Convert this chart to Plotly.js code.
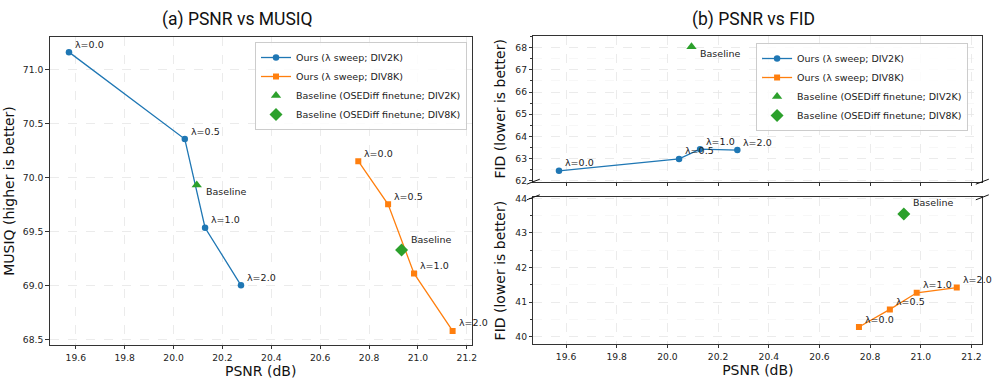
<!DOCTYPE html>
<html>
<head>
<meta charset="utf-8">
<script src="https://cdn.plot.ly/plotly-3.0.1.min.js"></script>
<style>
  html, body { margin: 0; padding: 0; background: #fff; }
  #chart { width: 997px; height: 384px; }
</style>
</head>
<body>
<div id="chart"></div>
<script>
(function() {
'use strict';

  // Ours, lambda sweep
  var lambdas = ['λ=0.0', 'λ=0.5', 'λ=1.0', 'λ=2.0'];
  var psnr2k = [19.572, 20.046, 20.129, 20.276];
  var musiq2k = [71.16, 70.355, 69.533, 69.0];
  var fid2k = [62.44, 62.98, 63.42, 63.38];
  var psnr8k = [20.756, 20.878, 20.984, 21.142];
  var musiq8k = [70.15, 69.75, 69.11, 68.577];
  var fid8k = [40.28, 40.79, 41.27, 41.42];

  // Baselines (OSEDiff finetune): [DIV2K, DIV8K]
  var basePsnr = [20.095, 20.933];
  var baseMusiq = [69.93, 69.327];
  var baseFid = [68.04, 43.55];

  var blue = '#1f77b4', orange = '#ff7f0e', green = '#2ca02c';
  var dv = 'DejaVu Sans, sans-serif';

  var names = ['Ours (λ sweep; DIV2K)', 'Ours (λ sweep; DIV8K)',
               'Baseline (OSEDiff finetune; DIV2K)', 'Baseline (OSEDiff finetune; DIV8K)'];

  function ours(x, y, color, symbol, size, name, xa, ya, leg) {
    return {type: 'scatter', mode: 'lines+markers', x: x, y: y, name: name,
      xaxis: xa, yaxis: ya, legend: leg,
      line: {color: color, width: 1.3},
      marker: {color: color, symbol: symbol, size: size}};
  }
  function base(x, y, symbol, size, name, xa, ya, leg) {
    return {type: 'scatter', mode: 'markers', x: [x], y: [y], name: name,
      xaxis: xa, yaxis: ya, legend: leg,
      marker: {color: green, symbol: symbol, size: size}};
  }

  var data = [
    ours(psnr2k, musiq2k, blue, 'circle', 6.5, names[0], 'x', 'y', 'legend'),
    ours(psnr8k, musiq8k, orange, 'square', 6, names[1], 'x', 'y', 'legend'),
    base(basePsnr[0], baseMusiq[0], 'triangle-up', 9, names[2], 'x', 'y', 'legend'),
    base(basePsnr[1], baseMusiq[1], 'diamond', 10, names[3], 'x', 'y', 'legend'),
    ours(psnr2k, fid2k, blue, 'circle', 6.5, names[0], 'x2', 'y2', 'legend2'),
    ours(psnr8k, fid8k, orange, 'square', 6, names[1], 'x3', 'y3', 'legend2'),
    base(basePsnr[0], baseFid[0], 'triangle-up', 9, names[2], 'x2', 'y2', 'legend2'),
    base(basePsnr[1], baseFid[1], 'diamond', 10, names[3], 'x3', 'y3', 'legend2')
  ];

  // text labels next to the points
  var annotations = [];
  function lamLabels(xs, ys, xa, ya) {
    xs.forEach(function(x, i) {
      annotations.push({x: x, y: ys[i], xref: xa, yref: ya, text: lambdas[i],
        showarrow: false, xanchor: 'left', yanchor: 'middle', xshift: 4, yshift: 8,
        font: {family: dv, size: 9.5, color: '#222'}});
    });
  }
  lamLabels(psnr2k, musiq2k, 'x', 'y');
  lamLabels(psnr8k, musiq8k, 'x', 'y');
  lamLabels(psnr2k, fid2k, 'x2', 'y2');
  lamLabels(psnr8k, fid8k, 'x3', 'y3');

  function baseLabel(x, y, xa, ya, dy) {
    annotations.push({x: x, y: y, xref: xa, yref: ya, text: 'Baseline',
      showarrow: false, xanchor: 'left', yanchor: 'middle', xshift: 7, yshift: dy,
      font: {family: dv, size: 9.5, color: '#222'}});
  }
  baseLabel(basePsnr[0], baseMusiq[0], 'x', 'y', -7);
  baseLabel(basePsnr[1], baseMusiq[1], 'x', 'y', 10);
  baseLabel(basePsnr[0], baseFid[0], 'x2', 'y2', -7);
  baseLabel(basePsnr[1], baseFid[1], 'x3', 'y3', 11);

  // panel titles
  annotations.push({text: '(a) PSNR vs MUSIQ', xref: 'paper', yref: 'paper', x: 0.2384, y: 0.948,
    showarrow: false, xanchor: 'center', yanchor: 'middle', font: {family: 'Roboto', size: 17.5, color: '#111'}});
  annotations.push({text: '(b) PSNR vs FID', xref: 'paper', yref: 'paper', x: 0.756, y: 0.948,
    showarrow: false, xanchor: 'center', yanchor: 'middle', font: {family: 'Roboto', size: 17.5, color: '#111'}});

  function axis(extra) {
    var a = {
      showline: true, mirror: true, linecolor: '#333', linewidth: 1,
      ticks: 'outside', ticklen: 3.5, tickcolor: '#333', tickwidth: 1,
      showgrid: true, gridcolor: '#e6e6e6', griddash: 'dash', gridwidth: 0.8,
      zeroline: false, tickfont: {family: dv, size: 9.2, color: '#222'},
      autorange: false
    };
    for (var k in extra) a[k] = extra[k];
    return a;
  }
  var titleFont = {family: dv, size: 14, color: '#111'};
  var minorY = {dtick: 0.5, ticks: 'outside', ticklen: 2, tickcolor: '#333',
    showgrid: true, gridcolor: '#f1f1f1', griddash: 'dash', gridwidth: 0.6};

  // broken-axis slashes
  var shapes = [];
  [[533.3, 181.7], [982.3, 181.7], [533.3, 197.3], [982.3, 197.3]].forEach(function(p) {
    shapes.push({type: 'line', xref: 'paper', yref: 'paper',
      x0: (p[0] - 6.5) / 997, x1: (p[0] + 6.5) / 997,
      y0: 1 - (p[1] + 2.5) / 384, y1: 1 - (p[1] - 2.5) / 384,
      line: {color: '#111', width: 1}});
  });

  var legendStyle = {bgcolor: 'rgba(255,255,255,0.85)', bordercolor: '#cccccc', borderwidth: 1,
    font: {family: dv, size: 9.5, color: '#222'}, itemwidth: 30,
    xanchor: 'right', yanchor: 'top', xref: 'paper', yref: 'paper'};
  function leg(x, y) {
    var l = {x: x, y: y};
    for (var k in legendStyle) l[k] = legendStyle[k];
    return l;
  }

  var layout = {
    width: 997, height: 384,
    margin: {l: 0, r: 0, t: 0, b: 0},
    paper_bgcolor: '#fff', plot_bgcolor: '#fff',
    showlegend: true,
    legend: leg(0.4684, 0.8906),
    legend2: leg(0.971, 0.888),
    xaxis: axis({domain: [0.0498, 0.4731], range: [19.493, 21.22], dtick: 0.2, tickformat: '.1f',
      anchor: 'y', title: {text: 'PSNR (dB)', font: titleFont, standoff: 4}}),
    yaxis: axis({domain: [0.1016, 0.9036], range: [68.447, 71.3], dtick: 0.5, tickformat: '.1f',
      anchor: 'x', title: {text: 'MUSIQ (higher is better)', font: titleFont, standoff: 4}}),
    xaxis2: axis({domain: [0.535, 0.9853], range: [19.471, 21.243], dtick: 0.2, tickformat: '.1f',
      anchor: 'y2', showticklabels: false}),
    yaxis2: axis({domain: [0.5268, 0.9063], range: [61.95, 68.53], dtick: 1,
      anchor: 'x2', minor: minorY, title: {text: 'FID (lower is better)', font: titleFont, standoff: 6}}),
    xaxis3: axis({domain: [0.535, 0.9853], range: [19.471, 21.243], dtick: 0.2, tickformat: '.1f',
      anchor: 'y3', title: {text: 'PSNR (dB)', font: titleFont, standoff: 4}}),
    yaxis3: axis({domain: [0.1042, 0.4862], range: [39.79, 44.03], dtick: 1,
      anchor: 'x3', minor: minorY, title: {text: 'FID (lower is better)', font: titleFont, standoff: 6}}),
    annotations: annotations,
    shapes: shapes
  };

  Plotly.newPlot('chart', data, layout, {displayModeBar: false, staticPlot: true});
}());
</script>
</body>
</html>
